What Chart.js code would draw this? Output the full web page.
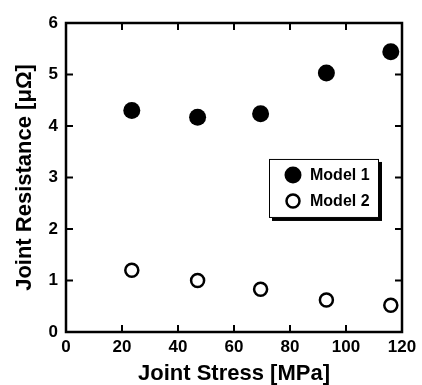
<!DOCTYPE html>
<html>
<head>
<meta charset="utf-8">
<script src="https://cdn.jsdelivr.net/npm/chart.js@4/dist/chart.umd.min.js"></script>
<style>
    html, body { margin: 0; padding: 0; background: #fff; }
    #wrap { width: 422px; height: 385px; }
</style>
</head>
<body>
<div id="wrap"><canvas id="myChart" width="422" height="385"></canvas></div>
<script>
//data
var stress = [23.5, 47, 69.5, 93, 116];
var model1 = [4.30, 4.17, 4.24, 5.03, 5.44];
var model2 = [1.20, 1.00, 0.83, 0.62, 0.52];
var seriesNames = ["Model 1", "Model 2"];
var xTicks = [0, 20, 40, 60, 80, 100, 120];
var yTicks = [0, 1, 2, 3, 4, 5, 6];

var fontFam = "'Liberation Sans', Arial, Helvetica, sans-serif";

function toPoints(xs, ys) {
    var pts = [];
    for (var i = 0; i < xs.length; i++) {
        pts.push({ x: xs[i], y: ys[i] });
    }
    return pts;
}

// frame round the plot, ticks pointing inward on all 4 sides, and the legend box
var framePlugin = {
    id: 'frame',
    afterDraw: function (chart) {
        var ctx = chart.ctx;
        var a = chart.chartArea;
        var xs = chart.scales.x;
        var ys = chart.scales.y;
        var tl = 7;
        ctx.save();
        ctx.strokeStyle = '#000';
        ctx.lineWidth = 2.5;
        ctx.strokeRect(a.left, a.top, a.right - a.left, a.bottom - a.top);
        ctx.lineWidth = 2;
        ctx.beginPath();
        for (var i = 1; i < xTicks.length - 1; i++) {
            var px = xs.getPixelForValue(xTicks[i]);
            ctx.moveTo(px, a.bottom); ctx.lineTo(px, a.bottom - tl);
            ctx.moveTo(px, a.top); ctx.lineTo(px, a.top + tl);
        }
        for (var j = 1; j < yTicks.length - 1; j++) {
            var py = ys.getPixelForValue(yTicks[j]);
            ctx.moveTo(a.left, py); ctx.lineTo(a.left + tl, py);
            ctx.moveTo(a.right, py); ctx.lineTo(a.right - tl, py);
        }
        ctx.stroke();

        // legend, placed inside the plot
        var lx = xs.getPixelForValue(72.5);
        var ly = ys.getPixelForValue(3.36);
        var lw = 110, lh = 59;
        ctx.fillStyle = '#000';
        ctx.fillRect(lx + 3, ly + 3, lw, lh);
        ctx.fillStyle = '#fff';
        ctx.fillRect(lx, ly, lw, lh);
        ctx.lineWidth = 1;
        ctx.strokeRect(lx + 0.5, ly + 0.5, lw - 1, lh - 1);

        var metas = [chart.data.datasets[0], chart.data.datasets[1]];
        for (var k = 0; k < metas.length; k++) {
            var ds = metas[k];
            var cy = ly + 16 + k * 26;
            var cx = lx + 24;
            ctx.beginPath();
            ctx.arc(cx, cy, ds.pointRadius, 0, Math.PI * 2);
            ctx.fillStyle = ds.backgroundColor;
            ctx.fill();
            if (ds.borderWidth) {
                ctx.lineWidth = ds.borderWidth;
                ctx.strokeStyle = ds.borderColor;
                ctx.stroke();
            }
            ctx.fillStyle = '#000';
            ctx.font = 'bold 16px ' + fontFam;
            ctx.textBaseline = 'middle';
            ctx.textAlign = 'left';
            ctx.fillText(ds.label, lx + 41, cy + 1);
        }
        ctx.restore();
    }
};

function loadChart() {
    var ctx = document.getElementById('myChart').getContext('2d');
    var chart = new Chart(ctx, {
        type: 'scatter',
        data: {
            datasets: [{
                label: seriesNames[0],
                data: toPoints(stress, model1),
                backgroundColor: '#000',
                borderColor: '#000',
                borderWidth: 0,
                pointRadius: 8.5,
                pointHoverRadius: 8.5
            }, {
                label: seriesNames[1],
                data: toPoints(stress, model2),
                backgroundColor: '#fff',
                borderColor: '#000',
                borderWidth: 2.5,
                pointRadius: 6.5,
                pointHoverRadius: 6.5
            }]
        },
        options: {
            responsive: false,
            animation: false,
            layout: { padding: { top: 23, right: 20, left: 0, bottom: 0 } },
            plugins: {
                legend: { display: false },
                tooltip: { enabled: false }
            },
            scales: {
                x: {
                    type: 'linear',
                    min: 0,
                    max: 120,
                    afterFit: function (s) { s.height = 53; },
                    afterBuildTicks: function (s) {
                        s.ticks = xTicks.map(function (v) { return { value: v }; });
                    },
                    grid: { display: false, drawTicks: false },
                    border: { display: false },
                    ticks: {
                        color: '#000',
                        padding: 5,
                        maxRotation: 0,
                        font: { family: fontFam, size: 17, weight: 'bold' }
                    },
                    title: {
                        display: true,
                        text: 'Joint Stress [MPa]',
                        color: '#000',
                        padding: 0,
                        font: { family: fontFam, size: 22, weight: 'bold', lineHeight: 1 }
                    }
                },
                y: {
                    type: 'linear',
                    min: 0,
                    max: 6,
                    afterFit: function (s) { s.width = 66; },
                    afterBuildTicks: function (s) {
                        s.ticks = yTicks.map(function (v) { return { value: v }; });
                    },
                    grid: { display: false, drawTicks: false },
                    border: { display: false },
                    ticks: {
                        color: '#000',
                        padding: 8,
                        font: { family: fontFam, size: 17, weight: 'bold' }
                    },
                    title: {
                        display: true,
                        text: 'Joint Resistance [\u03bc\u03a9]',
                        color: '#000',
                        padding: { top: 14, bottom: 0 },
                        font: { family: fontFam, size: 22, weight: 'bold', lineHeight: 1 }
                    }
                }
            }
        },
        plugins: [framePlugin]
    });
}

document.addEventListener('DOMContentLoaded', function () {
    loadChart();
});
</script>
</body>
</html>
